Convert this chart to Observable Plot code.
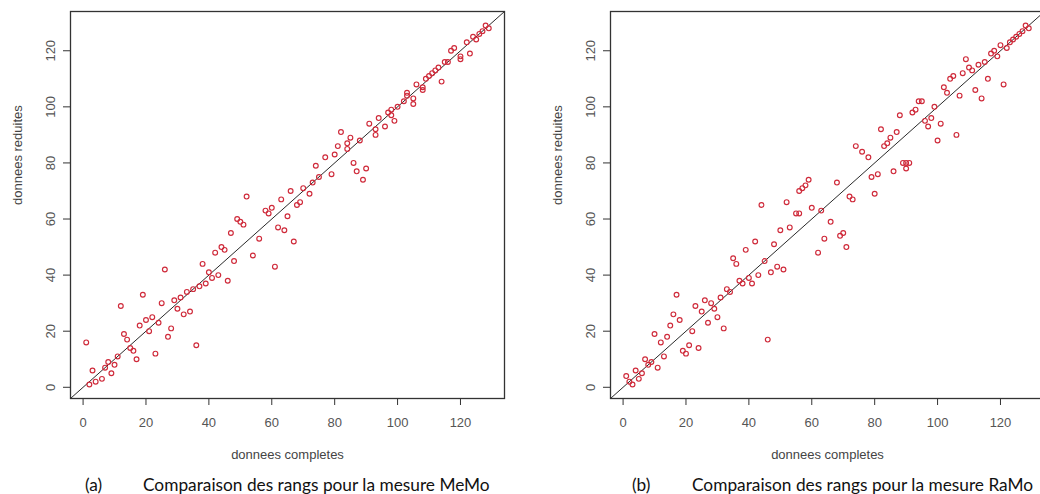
<!DOCTYPE html>
<html>
<head>
<meta charset="utf-8">
<script src="https://cdn.jsdelivr.net/npm/d3@7"></script>
<script src="https://cdn.jsdelivr.net/npm/@observablehq/plot@0.6"></script>
<style>
  html, body { margin: 0; padding: 0; background: #fff; overflow: hidden; }
  #page { position: relative; width: 1040px; height: 494px; overflow: hidden; }
  .panel { position: absolute; top: 0; max-width: none !important; }
  .caption { position: absolute; top: 473px; font-family: Lato, "Open Sans", sans-serif; font-size: 17.3px; color: #111; white-space: nowrap; line-height: 24px; }
</style>
</head>
<body>
<div id="page"></div>
<script>
// Rank in the complete data (x) versus rank in the reduced data (y)
const memoX = [1,2,3,4,6,7,8,9,10,11,12,13,14,15,16,17,18,19,20,21,22,23,24,25,26,27,28,29,30,31,32,33,34,35,36,37,38,39,40,41,42,43,44,45,46,47,48,49,50,51,52,54,56,58,59,60,61,62,63,64,65,66,67,68,69,70,72,73,74,75,77,79,80,81,82,84,84,85,86,87,88,89,90,91,93,93,94,96,97,98,98,99,100,102,103,103,105,105,106,108,108,109,110,111,112,113,114,115,116,117,118,120,120,122,123,124,125,126,127,128,129];
const memoY = [16,1,6,2,3,7,9,5,8,11,29,19,17,14,13,10,22,33,24,20,25,12,23,30,42,18,21,31,28,32,26,34,27,35,15,36,44,37,41,39,48,40,50,49,38,55,45,60,59,58,68,47,53,63,62,64,43,57,67,56,61,70,52,65,66,71,69,73,79,75,82,76,83,86,91,87,85,89,80,77,88,74,78,94,92,90,96,93,98,97,99,95,100,102,104,105,103,101,108,107,106,110,111,112,113,114,109,116,116,120,121,117,118,123,119,125,124,126,127,129,128];

const ramoX = [1,2,3,4,5,6,7,8,9,10,11,12,13,14,15,16,17,18,19,20,21,22,23,24,25,26,27,28,29,30,31,32,33,34,35,36,37,38,39,40,41,42,43,44,45,46,47,48,49,50,51,52,53,55,56,56,57,58,59,60,62,63,64,66,68,69,70,71,72,73,74,76,78,79,80,81,82,83,84,85,86,87,88,89,90,91,90,92,93,94,95,96,97,98,99,100,101,102,103,104,105,106,107,108,109,110,111,112,113,114,115,116,117,118,119,120,121,122,123,124,125,126,127,128,129];
const ramoY = [4,2,1,6,3,5,10,8,9,19,7,16,11,18,22,26,33,24,13,12,15,20,29,14,27,31,23,30,28,25,32,21,35,34,46,44,38,37,49,39,37,52,40,65,45,17,41,51,43,56,42,66,57,62,62,70,71,72,74,64,48,63,53,59,73,54,55,50,68,67,86,84,82,75,69,76,92,86,87,89,77,91,97,80,80,80,78,98,99,102,102,95,93,96,100,88,94,107,105,110,111,90,104,112,117,114,113,106,115,103,116,110,119,120,118,122,108,121,123,124,125,126,127,129,128];

const tickValues = [0, 20, 40, 60, 80, 100, 120];
const domain = [-4, 134];
const xTitle = "donnees completes";
const yTitle = "donnees reduites";
const panels = [
  {x: memoX, y: memoY, tag: "(a)", title: "Comparaison des rangs pour la mesure MeMo", left: 0, tagLeft: 85, titleLeft: 143},
  {x: ramoX, y: ramoY, tag: "(b)", title: "Comparaison des rangs pour la mesure RaMo", left: 540, tagLeft: 632, titleLeft: 692}
];

function scatter(xs, ys) {
  const pts = xs.map((x, i) => ({x, y: ys[i]}));
  // identity line y = x across the whole plotting region
  const diag = domain.map(v => ({x: v, y: v}));
  return Plot.plot({
    width: 520,
    height: 470,
    marginLeft: 70,
    marginRight: 16,
    marginTop: 11,
    marginBottom: 72,
    x: {domain, label: null},
    y: {domain, label: null},
    style: {fontFamily: "'Liberation Sans', Arial, sans-serif", fontSize: "13px", background: "transparent", overflow: "visible"},
    marks: [
      Plot.line(diag, {x: "x", y: "y", stroke: "#2a2a2a", strokeWidth: 1}),
      Plot.dot(pts, {x: "x", y: "y", r: 2.4, stroke: "#cf2a3a", strokeWidth: 1.15, fill: "none"}),
      Plot.frame({stroke: "#333", strokeWidth: 1.3}),
      Plot.axisX(tickValues, {tickSize: 7, tickPadding: 12, stroke: "#333", fill: "#555", label: null}),
      Plot.axisY(tickValues, {tickSize: 7, tickPadding: 9, tickRotate: -90, stroke: "#333", fill: "#555", label: null}),
      Plot.text([xTitle], {text: d => d, frameAnchor: "bottom", dy: 60, fill: "#444", fontSize: 13}),
      Plot.text([yTitle], {text: d => d, frameAnchor: "left", dx: -53, rotate: -90, fill: "#444", fontSize: 13})
    ]
  });
}

const page = document.getElementById("page");
for (const p of panels) {
  const svg = scatter(p.x, p.y);
  svg.classList.add("panel");
  svg.style.left = p.left + "px";
  page.appendChild(svg);

  const tag = document.createElement("div");
  tag.className = "caption";
  tag.style.left = p.tagLeft + "px";
  tag.textContent = p.tag;
  page.appendChild(tag);

  const cap = document.createElement("div");
  cap.className = "caption";
  cap.style.left = p.titleLeft + "px";
  cap.textContent = p.title;
  page.appendChild(cap);
}
</script>
</body>
</html>
